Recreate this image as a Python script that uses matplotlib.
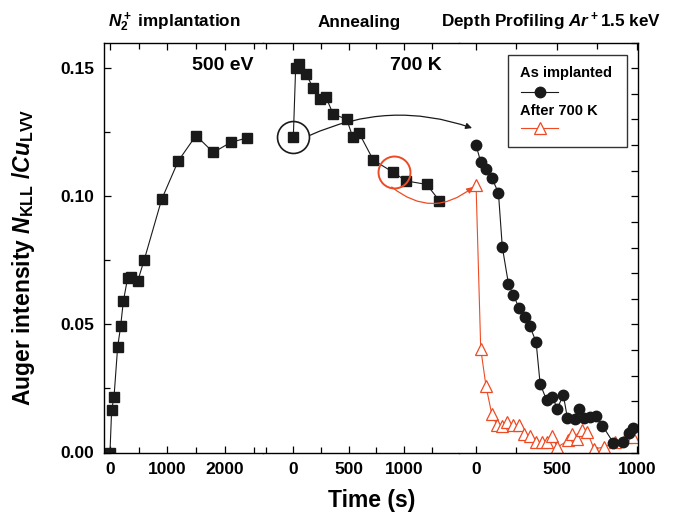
import numpy as np
import matplotlib
matplotlib.use('Agg')
import matplotlib.pyplot as plt
from matplotlib.patches import ConnectionPatch, Rectangle
from matplotlib.ticker import MultipleLocator

plt.rcParams['font.family'] = 'Liberation Sans'
plt.rcParams['font.weight'] = 'bold'
plt.rcParams['axes.labelweight'] = 'bold'
plt.rcParams['mathtext.fontset'] = 'custom'
plt.rcParams['mathtext.rm'] = 'Liberation Sans:bold'
plt.rcParams['mathtext.bf'] = 'Liberation Sans:bold'
plt.rcParams['mathtext.it'] = 'Liberation Sans:italic:bold'

# N2+ implantation at 500 eV
t_impl = [0, 29, 70, 133, 185, 232, 307, 360, 481, 597, 899, 1188, 1496, 1797, 2099, 2388]
v_impl = [0.000, 0.0167, 0.0216, 0.0411, 0.0492, 0.0590, 0.0681, 0.0685, 0.0668,
          0.0753, 0.0988, 0.1138, 0.1237, 0.1171, 0.1210, 0.1228]

# annealing at 700 K
t_ann = [0, 21, 54, 115, 181, 241, 295, 361, 482, 536, 596, 723, 904, 1018, 1205, 1319]
v_ann = [0.1232, 0.1501, 0.1518, 0.1477, 0.1421, 0.1378, 0.1386, 0.1320, 0.1301,
         0.1232, 0.1245, 0.1141, 0.1093, 0.1060, 0.1046, 0.0983]

# depth profiling, as implanted
t_as = [0, 29, 62, 97, 139, 163, 201, 232, 267, 304, 335, 373, 398, 439, 474, 505,
        542, 567, 615, 642, 673, 708, 745, 785, 853, 915, 950, 977]
v_as = [0.1199, 0.1134, 0.1108, 0.1073, 0.1013, 0.0802, 0.0659, 0.0613, 0.0565,
        0.0529, 0.0492, 0.0431, 0.0268, 0.0203, 0.0216, 0.0171, 0.0225, 0.0136,
        0.0132, 0.0171, 0.0134, 0.0138, 0.0141, 0.0105, 0.0038, 0.0040, 0.0075, 0.0096]

# depth profiling, after 700 K
t_after = [0, 29, 62, 97, 128, 159, 195, 232, 267, 298, 335, 373, 408, 443, 470, 505,
           573, 594, 629, 656, 691, 733, 795, 863, 930, 973]
v_after = [0.1043, 0.0405, 0.0258, 0.0151, 0.0109, 0.0102, 0.0118, 0.0109, 0.0109,
           0.0073, 0.0066, 0.0040, 0.0040, 0.0040, 0.0066, 0.0021, 0.0047, 0.0073,
           0.0054, 0.0086, 0.0080, 0.0014, 0.0021, 0.0040, 0.0060, 0.0060]

red = '#ee4b24'
W, H = 673, 518
fig = plt.figure(figsize=(6.73, 5.18), dpi=100)

def fx(px):
    return px / W

bot = 1 - 452.5 / H
top = 1 - 42.5 / H
ax1 = fig.add_axes([fx(104), bot, fx(263 - 104), top - bot])
ax2 = fig.add_axes([fx(263), bot, fx(459 - 263), top - bot])
ax3 = fig.add_axes([fx(459), bot, fx(638 - 459), top - bot])

ax1.plot(t_impl, v_impl, '-s', color='#1a1a1a', lw=0.8, ms=7)
ax2.plot(t_ann, v_ann, '-s', color='#1a1a1a', lw=0.8, ms=7)
ax3.plot(t_after, v_after, '-^', color=red, lw=0.8, ms=8, mfc='white', mec=red, mew=0.9)
ax3.plot(t_as, v_as, '-o', color='#1a1a1a', lw=0.8, ms=7.5)

ax1.set_xlim(-104, 2661)
ax2.set_xlim(-274, 1497)
ax3.set_xlim(-106, 1006)

for ax in (ax1, ax2, ax3):
    ax.set_ylim(0, 0.16)
    ax.tick_params(which='both', direction='in', top=True, labelsize=12.5, pad=7)
    ax.tick_params(which='major', length=5, width=0.9)
    ax.tick_params(which='minor', length=4, width=0.9)
    for s in ax.spines.values():
        s.set_linewidth(1.0)

ax1.xaxis.set_major_locator(MultipleLocator(1000))
ax1.xaxis.set_minor_locator(MultipleLocator(500))
ax2.xaxis.set_major_locator(MultipleLocator(500))
ax2.xaxis.set_minor_locator(MultipleLocator(250))
ax3.xaxis.set_major_locator(MultipleLocator(500))
ax3.xaxis.set_minor_locator(MultipleLocator(250))

ax1.yaxis.set_major_locator(MultipleLocator(0.05))
ax1.yaxis.set_minor_locator(MultipleLocator(0.025))
ax1.yaxis.set_major_formatter(matplotlib.ticker.FormatStrFormatter('%.2f'))
ax1.tick_params(axis='y', right=False)

ax2.tick_params(axis='y', left=False, right=False, labelleft=False, which='both')
ax3.yaxis.set_major_locator(MultipleLocator(0.01))
ax3.yaxis.set_minor_locator(matplotlib.ticker.NullLocator())
ax3.tick_params(axis='y', left=False, right=True, labelleft=False, which='both')

dash = (0, (3, 2, 1, 2, 1, 2))
ax1.spines['right'].set_linestyle(dash)
ax1.spines['right'].set_linewidth(0.7)
ax2.spines['left'].set_visible(False)
ax2.spines['right'].set_linestyle(dash)
ax2.spines['right'].set_linewidth(0.7)
ax3.spines['left'].set_visible(False)

ax1.set_ylabel(r'Auger intensity $N_{\mathrm{KLL}}$ /$Cu_{\mathrm{LVV}}$', fontsize=16.5,
               fontweight='bold')
ax1.yaxis.set_label_coords(-0.42, 0.475)
fig.text(fx(372), 1 - 500 / H, 'Time (s)', fontsize=16.5, ha='center', va='center')

fig.text(fx(108), 1 - 22 / H, r'$N_2^+$ implantation', fontsize=12.3, ha='left', va='center')
fig.text(fx(359), 1 - 22 / H, 'Annealing', fontsize=12.3, ha='center', va='center')
fig.text(fx(661), 1 - 22 / H, r'Depth Profiling $Ar^+$1.5 keV', fontsize=12.3, ha='right', va='center')
fig.text(fx(254), 1 - 66 / H, '500 eV', fontsize=14, ha='right', va='center')
fig.text(fx(442), 1 - 66 / H, '700 K', fontsize=14, ha='right', va='center')

# highlight circles
ax2.plot(t_ann[0], v_ann[0], 'o', ms=23, mfc='none', mec='#1a1a1a', mew=1.2)
ax2.plot(906, 0.1095, 'o', ms=23, mfc='none', mec=red, mew=1.4)

# curved arrows between panels
con1 = ConnectionPatch(xyA=(151, 0.1238), coordsA=ax2.transData,
                       xyB=(-25, 0.1266), coordsB=ax3.transData,
                       arrowstyle='-|>', connectionstyle='arc3,rad=-0.2',
                       color='#1a1a1a', lw=0.9, mutation_scale=9)
fig.add_artist(con1)
con2 = ConnectionPatch(xyA=(889, 0.1036), coordsA=ax2.transData,
                       xyB=(-19, 0.1036), coordsB=ax3.transData,
                       arrowstyle='-|>', connectionstyle='arc3,rad=0.4',
                       color=red, lw=0.9, mutation_scale=9)
fig.add_artist(con2)

# legend box drawn in the style of the original (label above its key)
def ax3f(px, py):
    return (px - 459) / (638 - 459), (452.5 - py) / (452.5 - 42.5)

x0, y0 = ax3f(508, 147)
x1, y1 = ax3f(627, 55)
ax3.add_patch(Rectangle((x0, y0), x1 - x0, y1 - y0, transform=ax3.transAxes,
                        fill=False, ec='#333333', lw=1.0))
tx, ty1 = ax3f(520, 73)
_, ly1 = ax3f(0, 91.5)
_, ty2 = ax3f(0, 111)
_, ly2 = ax3f(0, 128)
lx0, _ = ax3f(521, 0)
lx1, _ = ax3f(558, 0)
lxm, _ = ax3f(539.5, 0)
ax3.text(tx, ty1, 'As implanted', transform=ax3.transAxes, fontsize=10.5, va='center')
ax3.plot([lx0, lx1], [ly1, ly1], '-', color='#1a1a1a', lw=0.8, transform=ax3.transAxes)
ax3.plot([lxm], [ly1], 'o', color='#1a1a1a', ms=7.5, transform=ax3.transAxes)
ax3.text(tx, ty2, 'After 700 K', transform=ax3.transAxes, fontsize=10.5, va='center')
ax3.plot([lx0, lx1], [ly2, ly2], '-', color=red, lw=0.8, transform=ax3.transAxes)
ax3.plot([lxm], [ly2], '^', ms=8, mfc='white', mec=red, mew=0.9, transform=ax3.transAxes)

fig.savefig('out.png', dpi=100)
